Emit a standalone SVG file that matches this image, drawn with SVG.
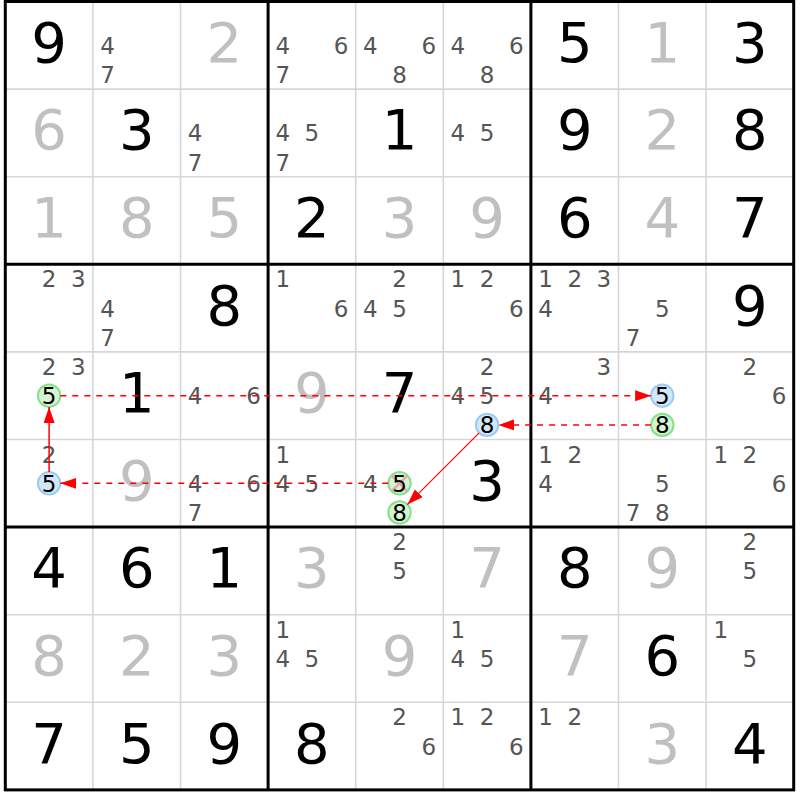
<svg xmlns="http://www.w3.org/2000/svg" width="800" height="800" viewBox="0 0 800 800">
<style>
text{font-family:"DejaVu Sans","Liberation Sans",sans-serif;text-anchor:middle}
.g{font-size:56px;fill:#000}
.s{font-size:56px;fill:#c0c0c0}
.c{font-size:23px;fill:#555}
.h{font-size:23px;fill:#000}
.thin{stroke:#d6d6d6;stroke-width:1.6}
.thick{stroke:#000;stroke-width:3}
.cb{fill:#d3e7fb;stroke:#9ccaf4;stroke-width:2}
.cg{fill:#d4f4d4;stroke:#86e086;stroke-width:2}
.x{stroke:#f2a4a4;stroke-width:2.5}
.dash{stroke:#f00;stroke-width:1.5;stroke-dasharray:6,6;fill:none}
.sol{stroke:#f00;fill:none}
</style>
<defs>
<marker id="ah" markerUnits="userSpaceOnUse" markerWidth="17" markerHeight="12" refX="16" refY="5.5" orient="auto">
<path d="M0,0 L16,5.5 L0,11 z" fill="#f00"/>
</marker>
</defs>
<rect width="800" height="800" fill="#fff"/>
<g id="grid">
<path class="thin" d="M92.9,1.5V789.9M180.5,1.5V789.9M355.7,1.5V789.9M443.3,1.5V789.9M618.5,1.5V789.9M706.1,1.5V789.9M5.3,89.1H793.7M5.3,176.7H793.7M5.3,351.9H793.7M5.3,439.5H793.7M5.3,614.7H793.7M5.3,702.3H793.7"/>
<path class="thick" d="M268.1,1.5V789.9M530.9,1.5V789.9M5.3,264.3H793.7M5.3,527.1H793.7"/>
<rect class="thick" x="5.3" y="1.5" width="788.4" height="788.4" fill="none"/>
</g>
<g id="r0">
<g id="r0c0"><text class="g" x="49.1" y="61.8">9</text></g>
<g id="r0c1"><text class="c" x="107.5" y="53.7">4</text><text class="c" x="107.5" y="82.9">7</text></g>
<g id="r0c2"><text class="s" x="224.3" y="61.8">2</text></g>
<g id="r0c3"><text class="c" x="282.7" y="53.7">4</text><text class="c" x="341.1" y="53.7">6</text><text class="c" x="282.7" y="82.9">7</text></g>
<g id="r0c4"><text class="c" x="370.3" y="53.7">4</text><text class="c" x="428.7" y="53.7">6</text><text class="c" x="399.5" y="82.9">8</text></g>
<g id="r0c5"><text class="c" x="457.9" y="53.7">4</text><text class="c" x="516.3" y="53.7">6</text><text class="c" x="487.1" y="82.9">8</text></g>
<g id="r0c6"><text class="g" x="574.7" y="61.8">5</text></g>
<g id="r0c7"><text class="s" x="662.3" y="61.8">1</text></g>
<g id="r0c8"><text class="g" x="749.9" y="61.8">3</text></g>
</g>
<g id="r1">
<g id="r1c0"><text class="s" x="49.1" y="149.4">6</text></g>
<g id="r1c1"><text class="g" x="136.7" y="149.4">3</text></g>
<g id="r1c2"><text class="c" x="195.1" y="141.3">4</text><text class="c" x="195.1" y="170.5">7</text></g>
<g id="r1c3"><text class="c" x="282.7" y="141.3">4</text><text class="c" x="311.9" y="141.3">5</text><text class="c" x="282.7" y="170.5">7</text></g>
<g id="r1c4"><text class="g" x="399.5" y="149.4">1</text></g>
<g id="r1c5"><text class="c" x="457.9" y="141.3">4</text><text class="c" x="487.1" y="141.3">5</text></g>
<g id="r1c6"><text class="g" x="574.7" y="149.4">9</text></g>
<g id="r1c7"><text class="s" x="662.3" y="149.4">2</text></g>
<g id="r1c8"><text class="g" x="749.9" y="149.4">8</text></g>
</g>
<g id="r2">
<g id="r2c0"><text class="s" x="49.1" y="237">1</text></g>
<g id="r2c1"><text class="s" x="136.7" y="237">8</text></g>
<g id="r2c2"><text class="s" x="224.3" y="237">5</text></g>
<g id="r2c3"><text class="g" x="311.9" y="237">2</text></g>
<g id="r2c4"><text class="s" x="399.5" y="237">3</text></g>
<g id="r2c5"><text class="s" x="487.1" y="237">9</text></g>
<g id="r2c6"><text class="g" x="574.7" y="237">6</text></g>
<g id="r2c7"><text class="s" x="662.3" y="237">4</text></g>
<g id="r2c8"><text class="g" x="749.9" y="237">7</text></g>
</g>
<g id="r3">
<g id="r3c0"><text class="c" x="49.1" y="287.3">2</text><text class="c" x="78.3" y="287.3">3</text></g>
<g id="r3c1"><text class="c" x="107.5" y="316.5">4</text><text class="c" x="107.5" y="345.7">7</text></g>
<g id="r3c2"><text class="g" x="224.3" y="324.6">8</text></g>
<g id="r3c3"><text class="c" x="282.7" y="287.3">1</text><text class="c" x="341.1" y="316.5">6</text></g>
<g id="r3c4"><text class="c" x="399.5" y="287.3">2</text><text class="c" x="370.3" y="316.5">4</text><text class="c" x="399.5" y="316.5">5</text></g>
<g id="r3c5"><text class="c" x="457.9" y="287.3">1</text><text class="c" x="487.1" y="287.3">2</text><text class="c" x="516.3" y="316.5">6</text></g>
<g id="r3c6"><text class="c" x="545.5" y="287.3">1</text><text class="c" x="574.7" y="287.3">2</text><text class="c" x="603.9" y="287.3">3</text><text class="c" x="545.5" y="316.5">4</text></g>
<g id="r3c7"><text class="c" x="662.3" y="316.5">5</text><text class="c" x="633.1" y="345.7">7</text></g>
<g id="r3c8"><text class="g" x="749.9" y="324.6">9</text></g>
</g>
<g id="r4">
<g id="r4c0"><text class="c" x="49.1" y="374.9">2</text><text class="c" x="78.3" y="374.9">3</text><circle class="cg" cx="49.1" cy="395.7" r="11.2"/><text class="h" x="49.1" y="404.1">5</text></g>
<g id="r4c1"><text class="g" x="136.7" y="412.2">1</text></g>
<g id="r4c2"><text class="c" x="195.1" y="404.1">4</text><text class="c" x="253.5" y="404.1">6</text></g>
<g id="r4c3"><text class="s" x="311.9" y="412.2">9</text></g>
<g id="r4c4"><text class="g" x="399.5" y="412.2">7</text></g>
<g id="r4c5"><text class="c" x="487.1" y="374.9">2</text><text class="c" x="457.9" y="404.1">4</text><text class="c" x="487.1" y="404.1">5</text><circle class="cb" cx="487.1" cy="424.9" r="11.2"/><text class="h" x="487.1" y="433.3">8</text></g>
<g id="r4c6"><text class="c" x="603.9" y="374.9">3</text><text class="c" x="545.5" y="404.1">4</text></g>
<g id="r4c7"><circle class="cb" cx="662.3" cy="395.7" r="11.2"/><text class="h" x="662.3" y="404.1">5</text><circle class="cg" cx="662.3" cy="424.9" r="11.2"/><text class="h" x="662.3" y="433.3">8</text></g>
<g id="r4c8"><text class="c" x="749.9" y="374.9">2</text><text class="c" x="779.1" y="404.1">6</text></g>
</g>
<g id="r5">
<g id="r5c0"><text class="c" x="49.1" y="462.5">2</text><circle class="cb" cx="49.1" cy="483.3" r="11.2"/><text class="h" x="49.1" y="491.7">5</text></g>
<g id="r5c1"><text class="s" x="136.7" y="499.8">9</text></g>
<g id="r5c2"><text class="c" x="195.1" y="491.7">4</text><text class="c" x="253.5" y="491.7">6</text><text class="c" x="195.1" y="520.9">7</text></g>
<g id="r5c3"><text class="c" x="282.7" y="462.5">1</text><text class="c" x="282.7" y="491.7">4</text><text class="c" x="311.9" y="491.7">5</text></g>
<g id="r5c4"><text class="c" x="370.3" y="491.7">4</text><circle class="cg" cx="399.5" cy="483.3" r="11.2"/><path class="x" d="M392,475.8L407,490.8M407,475.8L392,490.8"/><text class="h" x="399.5" y="491.7">5</text><circle class="cg" cx="399.5" cy="512.5" r="11.2"/><text class="h" x="399.5" y="520.9">8</text></g>
<g id="r5c5"><text class="g" x="487.1" y="499.8">3</text></g>
<g id="r5c6"><text class="c" x="545.5" y="462.5">1</text><text class="c" x="574.7" y="462.5">2</text><text class="c" x="545.5" y="491.7">4</text></g>
<g id="r5c7"><text class="c" x="662.3" y="491.7">5</text><text class="c" x="633.1" y="520.9">7</text><text class="c" x="662.3" y="520.9">8</text></g>
<g id="r5c8"><text class="c" x="720.7" y="462.5">1</text><text class="c" x="749.9" y="462.5">2</text><text class="c" x="779.1" y="491.7">6</text></g>
</g>
<g id="r6">
<g id="r6c0"><text class="g" x="49.1" y="587.4">4</text></g>
<g id="r6c1"><text class="g" x="136.7" y="587.4">6</text></g>
<g id="r6c2"><text class="g" x="224.3" y="587.4">1</text></g>
<g id="r6c3"><text class="s" x="311.9" y="587.4">3</text></g>
<g id="r6c4"><text class="c" x="399.5" y="550.1">2</text><text class="c" x="399.5" y="579.3">5</text></g>
<g id="r6c5"><text class="s" x="487.1" y="587.4">7</text></g>
<g id="r6c6"><text class="g" x="574.7" y="587.4">8</text></g>
<g id="r6c7"><text class="s" x="662.3" y="587.4">9</text></g>
<g id="r6c8"><text class="c" x="749.9" y="550.1">2</text><text class="c" x="749.9" y="579.3">5</text></g>
</g>
<g id="r7">
<g id="r7c0"><text class="s" x="49.1" y="675">8</text></g>
<g id="r7c1"><text class="s" x="136.7" y="675">2</text></g>
<g id="r7c2"><text class="s" x="224.3" y="675">3</text></g>
<g id="r7c3"><text class="c" x="282.7" y="637.7">1</text><text class="c" x="282.7" y="666.9">4</text><text class="c" x="311.9" y="666.9">5</text></g>
<g id="r7c4"><text class="s" x="399.5" y="675">9</text></g>
<g id="r7c5"><text class="c" x="457.9" y="637.7">1</text><text class="c" x="457.9" y="666.9">4</text><text class="c" x="487.1" y="666.9">5</text></g>
<g id="r7c6"><text class="s" x="574.7" y="675">7</text></g>
<g id="r7c7"><text class="g" x="662.3" y="675">6</text></g>
<g id="r7c8"><text class="c" x="720.7" y="637.7">1</text><text class="c" x="749.9" y="666.9">5</text></g>
</g>
<g id="r8">
<g id="r8c0"><text class="g" x="49.1" y="762.6">7</text></g>
<g id="r8c1"><text class="g" x="136.7" y="762.6">5</text></g>
<g id="r8c2"><text class="g" x="224.3" y="762.6">9</text></g>
<g id="r8c3"><text class="g" x="311.9" y="762.6">8</text></g>
<g id="r8c4"><text class="c" x="399.5" y="725.3">2</text><text class="c" x="428.7" y="754.5">6</text></g>
<g id="r8c5"><text class="c" x="457.9" y="725.3">1</text><text class="c" x="487.1" y="725.3">2</text><text class="c" x="516.3" y="754.5">6</text></g>
<g id="r8c6"><text class="c" x="545.5" y="725.3">1</text><text class="c" x="574.7" y="725.3">2</text></g>
<g id="r8c7"><text class="s" x="662.3" y="762.6">3</text></g>
<g id="r8c8"><text class="g" x="749.9" y="762.6">4</text></g>
</g>
<g id="connectors">
<line class="dash" x1="60.3" y1="395.7" x2="651.1" y2="395.7" marker-end="url(#ah)"/>
<line class="dash" x1="651.1" y1="424.9" x2="498.3" y2="424.9" marker-end="url(#ah)"/>
<line stroke="#f00" stroke-width="1.2" fill="none" x1="479.2" y1="432.8" x2="407.4" y2="504.6" marker-end="url(#ah)"/>
<line class="dash" x1="388.3" y1="483.3" x2="60.3" y2="483.3" marker-end="url(#ah)"/>
<line class="sol" stroke-width="1.5" x1="49.1" y1="472.1" x2="49.1" y2="406.9" marker-end="url(#ah)"/>
</g>
</svg>
